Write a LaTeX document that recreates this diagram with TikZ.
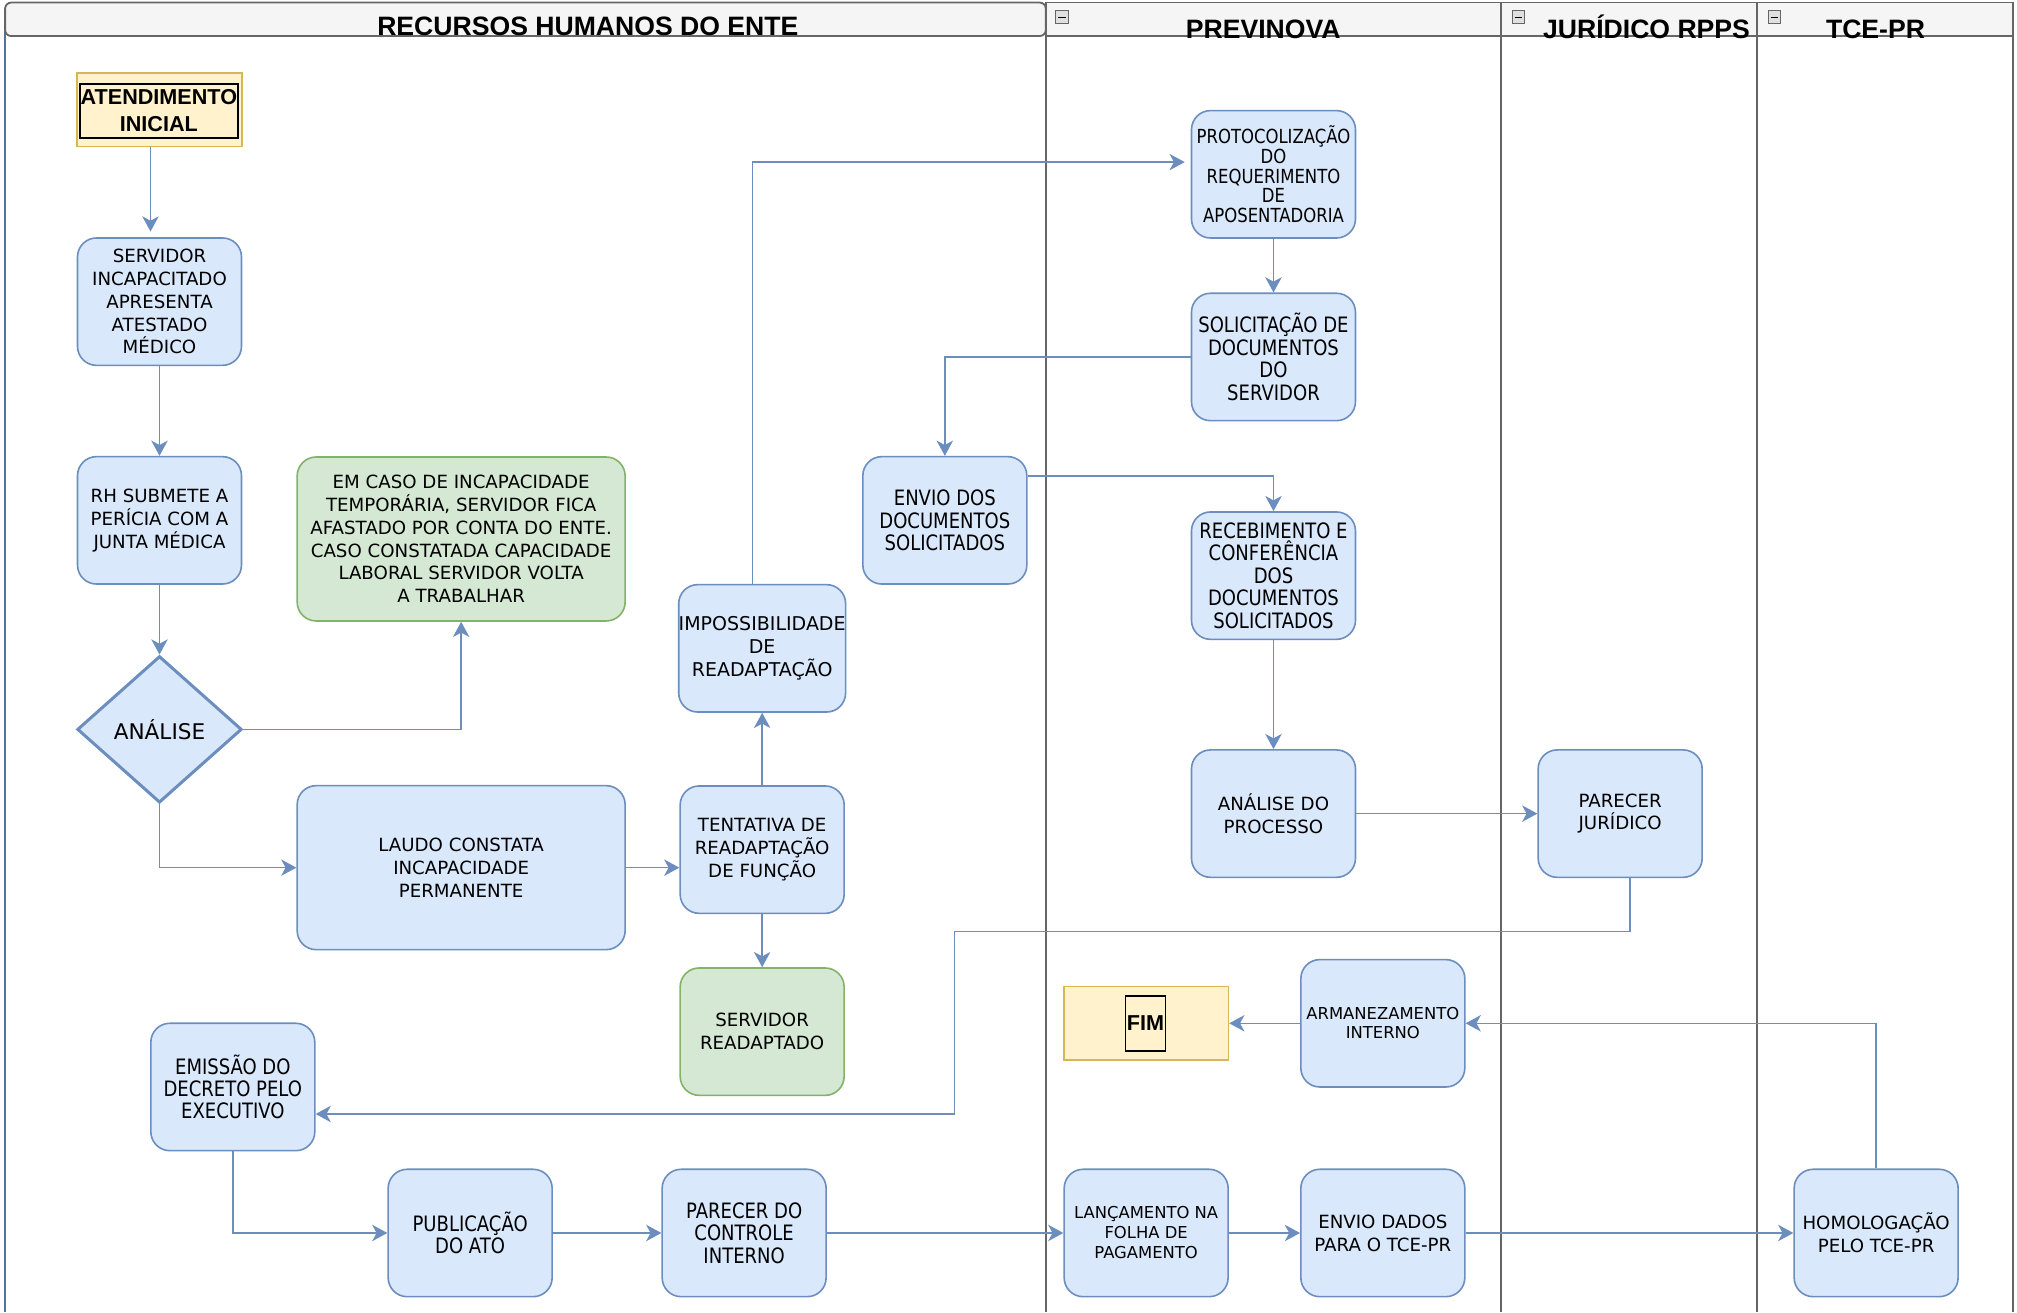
\documentclass[tikz,border=0pt]{standalone}
\usepackage{fontspec}
\setmainfont{DejaVu Sans}
\newfontfamily\condf{DejaVu Sans}[FakeStretch=0.85]
\newfontfamily\hdrf{Liberation Sans}
\usetikzlibrary{arrows.meta,shapes.geometric}
\definecolor{bfill}{HTML}{DAE8FC}
\definecolor{bline}{HTML}{6C8EBF}
\definecolor{gfill}{HTML}{D5E8D4}
\definecolor{gline}{HTML}{82B366}
\definecolor{yfill}{HTML}{FFF2CC}
\definecolor{yline}{HTML}{D6B656}
\definecolor{lanec}{HTML}{666666}
\definecolor{hdrfill}{HTML}{F5F5F5}
\begin{document}
\begin{tikzpicture}[x=0.6432pt,y=-0.6432pt,
 box/.style={draw=bline, fill=bfill, line width=0.8pt, rounded corners=9.5pt, minimum width=82pt, minimum height=63.7pt, inner sep=0pt, align=center, font=\fontsize{9.1}{11.4}\selectfont},
 gbox/.style={box, draw=gline, fill=gfill},
 wide/.style={minimum width=164pt, minimum height=82pt},
 tbox/.style={box, font=\condf\fontsize{10.6}{11.2}\selectfont},
 ybox/.style={draw=yline, fill=yfill, line width=0.8pt, minimum width=82.3pt, minimum height=36.7pt, inner sep=0pt},
 lbl/.style={draw=black, line width=0.9pt, inner sep=0pt, align=center, font=\hdrf\bfseries\fontsize{10.8}{13.5}\selectfont},
 conn/.style={draw=bline, line width=0.75pt, -{Stealth[length=7.6pt,width=8.2pt,inset=2.2pt]}},
 hdr/.style={font=\hdrf\bfseries\fontsize{13.3}{15}\selectfont, inner sep=0pt, anchor=base},
 lane/.style={draw=lanec, line width=0.9pt},
 mini/.style={draw=lanec, fill=gray!25, line width=0.5pt},
]
\fill[white] (0,0) rectangle (1568,1020);
\useasboundingbox (0,0) rectangle (1568,1020);

% lanes
\draw[lane] (813,28) -- (813,1020);
\draw[lane] (1167,28) -- (1167,1020);
\draw[lane] (1366,28) -- (1366,1020);
\draw[lane] (1565,2) -- (1565,1020);
\draw[draw=bline!80!black, line width=0.9pt] (4,20) -- (4,1020);
\draw[lane, fill=hdrfill] (813,2) rectangle (1167,28);
\draw[lane, fill=hdrfill] (1167,2) rectangle (1366,28);
\draw[lane, fill=hdrfill] (1366,2) rectangle (1565,28);
\draw[lane, fill=hdrfill, rounded corners=3pt] (4,2) rectangle (813,28);

\node[hdr] (hrh) at (457,27.5) {RECURSOS HUMANOS DO ENTE};
\node[hdr] (hpre) at (982,30) {PREVINOVA};
\node[hdr] (hjur) at (1280,30) {JURÍDICO RPPS};
\node[hdr] (htce) at (1458,30) {TCE-PR};

\draw[mini] (820.5,8.5) rectangle (830.5,18.5);
\draw[black, line width=0.8pt] (822.5,13.5) -- (828.5,13.5);
\draw[mini] (1175.5,8.5) rectangle (1185.5,18.5);
\draw[black, line width=0.8pt] (1177.5,13.5) -- (1183.5,13.5);
\draw[mini] (1374.5,8.5) rectangle (1384.5,18.5);
\draw[black, line width=0.8pt] (1376.5,13.5) -- (1382.5,13.5);

% nodes
\node[ybox] (atend) at (124,85.5) {};
\node[lbl, minimum width=79pt, minimum height=27pt] (atendt) at (123.5,86) {ATENDIMENTO\\INICIAL};
\node[box] (serv) at (124,234.5) {SERVIDOR\\INCAPACITADO\\APRESENTA\\ATESTADO\\MÉDICO};
\node[box] (rh) at (124,404.5) {RH SUBMETE A\\PERÍCIA COM A\\JUNTA MÉDICA};
\node[diamond, draw=bline, fill=bfill, line width=1.5pt, minimum width=82.3pt, minimum height=73.3pt, inner sep=0pt, font=\fontsize{10.8}{13}\selectfont] (anal) at (124,567) {ANÁLISE};
\node[gbox, wide] (emcaso) at (358.5,419) {EM CASO DE INCAPACIDADE\\TEMPORÁRIA, SERVIDOR FICA\\AFASTADO POR CONTA DO ENTE.\\CASO CONSTATADA CAPACIDADE\\LABORAL SERVIDOR VOLTA\\A TRABALHAR};
\node[box, wide] (laudo) at (358.5,674.5) {LAUDO CONSTATA\\INCAPACIDADE\\PERMANENTE};
\node[box] (tent) at (592.5,660.5) {TENTATIVA DE\\READAPTAÇÃO\\DE FUNÇÃO};
\node[box, font=\fontsize{9.5}{11.4}\selectfont] (imp) at (592.5,504) {IMPOSSIBILIDADE\\DE\\READAPTAÇÃO};
\node[gbox] (readapt) at (592.5,802) {SERVIDOR\\READAPTADO};
\node[tbox] (envio) at (734.5,404.5) {ENVIO DOS\\DOCUMENTOS\\SOLICITADOS};
\node[tbox, font=\condf\fontsize{9.7}{9.8}\selectfont] (prot) at (990,135.5) {PROTOCOLIZAÇÃO\\DO\\REQUERIMENTO\\DE\\APOSENTADORIA};
\node[tbox] (solic) at (990,277.5) {SOLICITAÇÃO DE\\DOCUMENTOS\\DO\\SERVIDOR};
\node[tbox] (receb) at (990,447.5) {RECEBIMENTO E\\CONFERÊNCIA\\DOS\\DOCUMENTOS\\SOLICITADOS};
\node[box] (aproc) at (990,632.5) {ANÁLISE DO\\PROCESSO};
\node[box] (parjur) at (1259.5,632.5) {PARECER\\JURÍDICO};
\node[box, font=\fontsize{8.2}{9.7}\selectfont] (arm) at (1075,795.5) {ARMANEZAMENTO\\INTERNO};
\node[ybox] (fim) at (891,795.5) {};
\node[lbl, minimum width=20pt, minimum height=27.7pt] (fimt) at (890.5,795.5) {FIM};
\node[tbox] (emis) at (181,845) {EMISSÃO DO\\DECRETO PELO\\EXECUTIVO};
\node[tbox] (publ) at (365.5,958.5) {PUBLICAÇÃO\\DO ATO};
\node[tbox] (pcont) at (578.5,958.5) {PARECER DO\\CONTROLE\\INTERNO};
\node[box, font=\fontsize{8.2}{10}\selectfont] (lanc) at (891,958.5) {LANÇAMENTO NA\\FOLHA DE\\PAGAMENTO};
\node[box] (envdad) at (1075,958.5) {ENVIO DADOS\\PARA O TCE-PR};
\node[box] (homol) at (1458.5,958.5) {HOMOLOGAÇÃO\\PELO TCE-PR};

% helper coordinates
\coordinate (c1) at (117,180);
\coordinate (c2) at (585,126);
\coordinate (c3) at (921,126);
\coordinate (c4) at (798,370);
\coordinate (c5) at (1267,724);
\coordinate (c6) at (742,866);

% connectors
\draw[conn] (atend.south -| c1) -- (c1);
\draw[conn] (serv) -- (rh);
\draw[conn] (rh) -- (anal);
\draw[conn] (anal.east) -| (emcaso.south);
\draw[conn] (anal.south) |- (laudo.west);
\draw[conn] (laudo.east) -- (laudo.east -| tent.west);
\draw[conn] (tent) -- (imp);
\draw[conn] (tent) -- (readapt);
\draw[conn] (imp.north -| c2) -- (c2) -- (c3);
\draw[conn] (prot) -- (solic);
\draw[conn] (solic.west) -| (envio.north);
\draw[conn] (envio.east |- c4) -| (receb.north);
\draw[conn] (receb) -- (aproc);
\draw[conn] (aproc) -- (parjur);
\draw[conn] (parjur.south -| c5) -- (c5) -| (c6) -- (c6 -| emis.east);
\draw[conn] (homol.north) |- (arm.east);
\draw[conn] (arm) -- (fim);
\draw[conn] (emis.south) |- (publ.west);
\draw[conn] (publ) -- (pcont);
\draw[conn] (pcont) -- (lanc);
\draw[conn] (lanc) -- (envdad);
\draw[conn] (envdad) -- (homol);
\end{tikzpicture}
\end{document}
